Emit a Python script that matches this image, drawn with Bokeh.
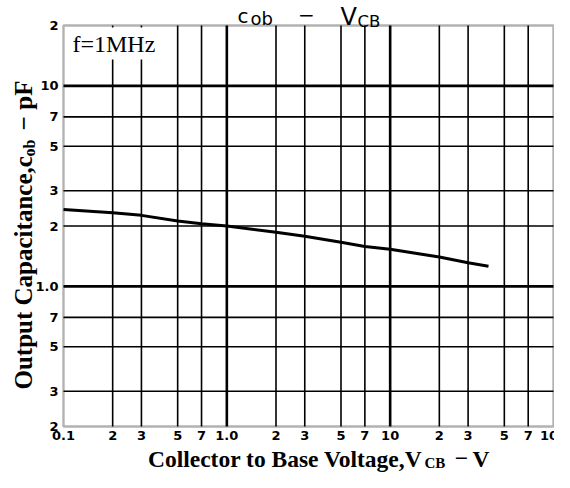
import math
from bokeh.plotting import figure
from bokeh.models import Label, Range1d, BoxAnnotation
from bokeh.core.properties import value
from bokeh.embed import file_html
from bokeh.resources import INLINE

# ---- data ----
vcb = [0.1, 0.2, 0.3, 0.5, 0.7, 1.0, 2.0, 3.0, 5.0, 7.0, 10.0, 20.0, 30.0, 40.0]
cob = [2.42, 2.33, 2.26, 2.12, 2.05, 2.0, 1.86, 1.78, 1.66, 1.58, 1.53, 1.40, 1.31, 1.26]

x_ticks = [0.1, 0.2, 0.3, 0.5, 0.7, 1.0, 2.0, 3.0, 5.0, 7.0, 10.0, 20.0, 30.0, 50.0, 70.0, 100.0]
x_tick_labels = ["0.1", "2", "3", "5", "7", "1.0", "2", "3", "5", "7", "10", "2", "3", "5", "7", "100"]
y_ticks = [0.2, 0.3, 0.5, 0.7, 1.0, 2.0, 3.0, 5.0, 7.0, 10.0, 20.0]
y_tick_labels = ["2", "3", "5", "7", "1.0", "2", "3", "5", "7", "10", "2"]
x_decades = [1.0, 10.0]
y_decades = [1.0, 10.0]
x_minor_grid = [0.2, 0.3, 0.5, 0.7, 2.0, 3.0, 5.0, 7.0, 20.0, 30.0, 50.0, 70.0]
y_minor_grid = [0.3, 0.5, 0.7, 2.0, 3.0, 5.0, 7.0]

# ---- layout (figure pixels) ----
W, H = 554, 472
GX0, GX1 = 63, 553      # left / right edge of the chart area
GY0, GY1 = 25, 426      # top / bottom edge of the chart area
XMIN, XMAX = x_ticks[0], x_ticks[-1]
YMIN, YMAX = y_ticks[0], y_ticks[-1]
xdec = (GX1 - GX0) / (math.log10(XMAX) - math.log10(XMIN))
ydec = (GY1 - GY0) / (math.log10(YMAX) - math.log10(YMIN))
x_lo = 10 ** (math.log10(XMIN) - GX0 / xdec)
x_hi = 10 ** (math.log10(XMAX) + (W - GX1) / xdec)
y_lo = 10 ** (math.log10(YMIN) - (H - GY1) / ydec)
y_hi = 10 ** (math.log10(YMAX) + GY0 / ydec)

p = figure(width=W, height=H, x_axis_type="log", y_axis_type="log",
           x_range=Range1d(x_lo, x_hi), y_range=Range1d(y_lo, y_hi),
           x_axis_location=None, y_axis_location=None,
           output_backend="svg", toolbar_location=None, min_border=0)
p.outline_line_color = None
p.grid.visible = False
p.background_fill_color = "white"
p.border_fill_color = "white"

# grid lines
p.segment(x0=x_minor_grid, y0=[YMIN] * len(x_minor_grid), x1=x_minor_grid, y1=[YMAX] * len(x_minor_grid),
          line_color="black", line_width=1.6)
p.segment(x0=[XMIN] * len(y_minor_grid), y0=y_minor_grid, x1=[XMAX] * len(y_minor_grid), y1=y_minor_grid,
          line_color="black", line_width=1.6)
p.segment(x0=x_decades, y0=[YMIN] * len(x_decades), x1=x_decades, y1=[YMAX] * len(x_decades),
          line_color="black", line_width=2.6)
p.segment(x0=[XMIN] * len(y_decades), y0=y_decades, x1=[XMAX] * len(y_decades), y1=y_decades,
          line_color="black", line_width=2.6)

# curve
p.line(vcb, cob, line_color="black", line_width=3)

# tick labels
p.text(x=x_ticks, y=[YMIN] * len(x_ticks), text=x_tick_labels, y_offset=4,
       text_align="center", text_baseline="top", text_font=value("DejaVu Sans"),
       text_font_style="bold", text_font_size="13px", text_color="black")
p.text(x=[XMIN] * len(y_ticks), y=y_ticks, text=y_tick_labels, x_offset=-5,
       text_align="right", text_baseline="middle", text_font=value("DejaVu Sans"),
       text_font_style="bold", text_font_size="13px", text_color="black")

# measured: a Label's "alphabetic" anchor lands ~0.29 em above the drawn baseline
SHIFT = 0.29


def txt(s, fx, fy, size, font="DejaVu Sans", style="normal", align="left", angle=0.0, **kw):
    if angle:
        fx = fx - SHIFT * size
    else:
        fy = fy - SHIFT * size
    lab = Label(x=fx, y=H - fy, x_units="screen", y_units="screen", text=s,
                text_font=font, text_font_size=f"{size}px", text_font_style=style,
                text_align=align, text_baseline="alphabetic", angle=angle, text_color="black", **kw)
    p.add_layout(lab)


# condition label (white box hides the tops of two grid lines)
txt("f=1MHz", 69, 50, 24, font="Liberation Serif", background_fill_color="white", padding=3)

# chart frame on top
p.add_layout(BoxAnnotation(left=XMIN, right=XMAX, bottom=YMIN, top=YMAX,
                           fill_color=None, fill_alpha=0, line_color="black", line_width=2.4))

# title  c_ob - V_CB   (positions are baselines, figure px)
txt("c", 237, 21, 20)
txt("ob", 250, 23, 18)
txt("\u2212", 306, 20.5, 20, align="center")
txt("V", 340, 23, 24)
txt("CB", 357, 26, 16.5)

SERIF = "Liberation Serif"
# x axis label
txt("Collector to Base Voltage,V", 422, 465, 23.5, font=SERIF, style="bold", align="right")
txt("CB", 424, 467, 15, font=SERIF, style="bold")
txt("\u2212", 461, 465, 23.5, font=SERIF, style="bold", align="center")
txt("V", 489, 465, 23.5, font=SERIF, style="bold", align="right")

# y axis label (rotated, reads upwards; x is the baseline)
A = math.pi / 2
txt("Output Capacitance,c", 30, 389, 25, font=SERIF, style="bold", align="left", angle=A)
txt("ob", 34, 156, 16, font=SERIF, style="bold", align="left", angle=A)
txt("\u2212", 30, 123, 25, font=SERIF, style="bold", align="center", angle=A)
txt("pF", 30, 80, 25, font=SERIF, style="bold", align="right", angle=A)

open("out.html", "w").write(file_html(p, INLINE))
